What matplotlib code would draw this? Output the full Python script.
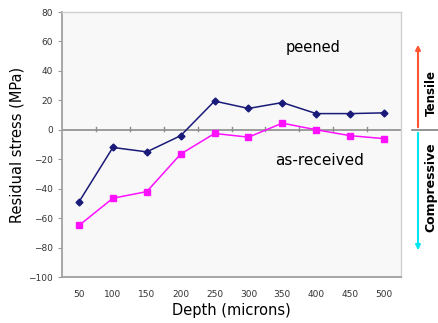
import numpy as np
import matplotlib.pyplot as plt

depth = ['50', '100', '150', '200', '250', '300', '350', '400', '450', '500']
peened = [-49, -12, -15, -4, 19.5, 14.5, 18.5, 11, 11, 11.5]
as_received = [-65, -46.5, -42, -16.5, -2.5, -5, 4.5, 0, -4, -6]

fig = plt.figure(figsize=(4.38, 3.23), dpi=100)
ax = fig.add_axes([0.1416, 0.1424, 0.7739, 0.8204])
ax.set_facecolor('#f8f8f8')

x = np.arange(len(depth))
ax.plot(x, peened, color='#1a1a78', marker='D', markersize=3.5, lw=1.1)
ax.plot(x, as_received, color='#ff10ff', marker='s', markersize=4, lw=1.1)

# zero line with category boundary ticks
ax.axhline(0, color='#8c8c8c', lw=1.2, zorder=1)
for b in np.arange(0.5, len(depth) - 1, 1):
    ax.plot([b, b], [-0.8, 2.2], color='#8c8c8c', lw=1, zorder=1)

ax.set_xlim(-0.5, len(depth) - 0.5)
ax.set_ylim(-100, 80)
ax.set_yticks(range(-100, 81, 20))
ax.set_xticks(x)
ax.set_xticklabels(depth)
ax.tick_params(axis='x', length=0, pad=9, labelsize=6.5, colors='#333333')
ax.tick_params(axis='y', length=3, width=0.8, color='#999999', labelsize=6.5, colors='#333333')

for s in ['left', 'bottom']:
    ax.spines[s].set_color('#a0a0a0')
    ax.spines[s].set_linewidth(1.3)
for s in ['top', 'right']:
    ax.spines[s].set_color('#d0d0d0')
    ax.spines[s].set_linewidth(1)

ax.set_xlabel('Depth (microns)', fontsize=10.5, labelpad=3)
ax.set_ylabel('Residual stress (MPa)', fontsize=10.5, labelpad=3)

ax.text(6.9, 56, 'peened', fontsize=10.5, ha='center', va='center')
ax.text(7.1, -21, 'as-received', fontsize=11, ha='center', va='center')

# tensile / compressive indicator
xa = 418 / 438
y0 = 1 - 130 / 323
fig.add_artist(plt.Line2D([412 / 438, 1.0], [y0, y0], color='#808080', lw=1.2))
ax.annotate('', xy=(xa, 1 - 42 / 323), xytext=(xa, y0), xycoords='figure fraction',
            arrowprops=dict(arrowstyle='-|>', color='#ff5533', lw=1.5, mutation_scale=7))
ax.annotate('', xy=(xa, 1 - 253 / 323), xytext=(xa, y0), xycoords='figure fraction',
            arrowprops=dict(arrowstyle='-|>', color='#00e5f0', lw=1.5, mutation_scale=7))
fig.text(431 / 438, 1 - 93 / 323, 'Tensile', rotation=90, fontsize=8.5, fontweight='bold',
         ha='center', va='center')
fig.text(431 / 438, 1 - 187 / 323, 'Compressive', rotation=90, fontsize=9, fontweight='bold',
         ha='center', va='center')

fig.savefig('out.png', dpi=100)
